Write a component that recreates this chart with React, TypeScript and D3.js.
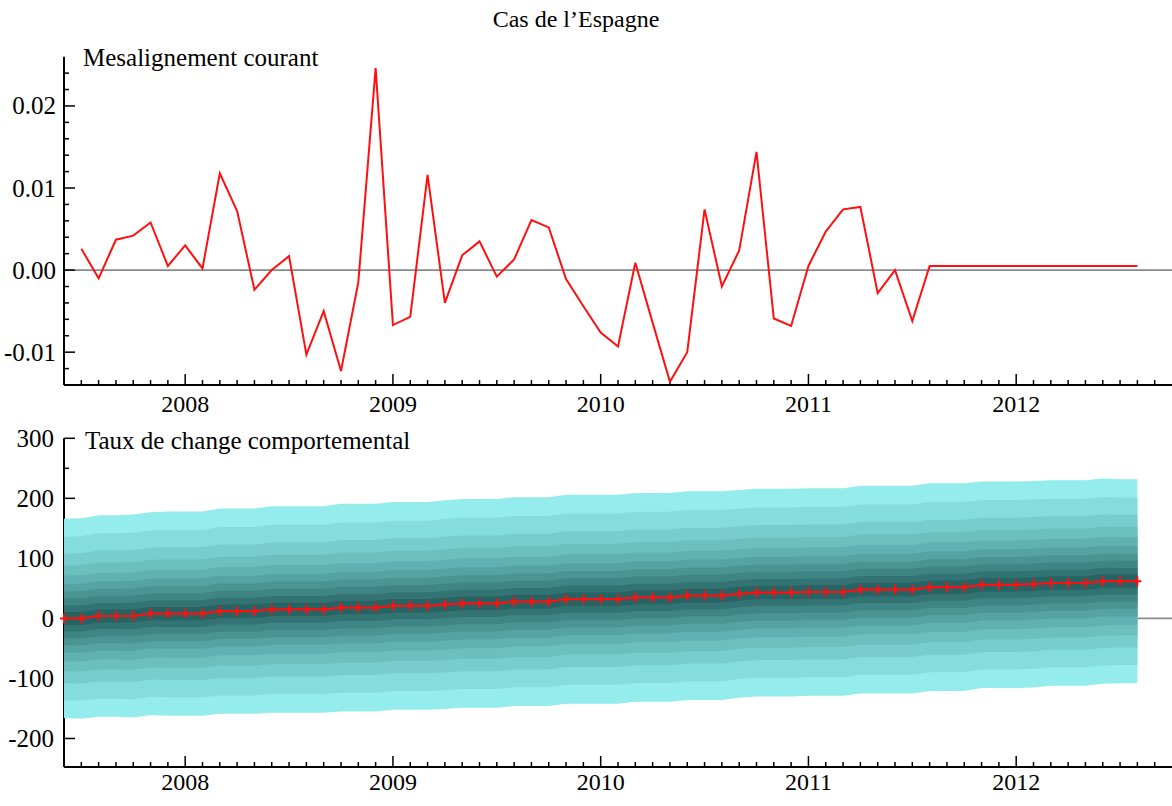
import React from "react";
import * as d3 from "d3";

// Monthly index 0 = June 2007
const yearLabels = ["2008", "2009", "2010", "2011", "2012"];
const yearMonthIndex = [7, 19, 31, 43, 55];

// Current misalignment, July 2007 .. August 2012 (index 1..62)
const misalignment = [
  0.0026, -0.001, 0.0037, 0.0042, 0.0058, 0.0005, 0.003, 0.0002, 0.0118, 0.0072,
  -0.0024, 0.0, 0.0017, -0.0103, -0.005, -0.0123, -0.0015, 0.0246, -0.0067, -0.0057,
  0.0116, -0.004, 0.0018, 0.0035, -0.0008, 0.0013, 0.0061, 0.0052, -0.0011, -0.0044,
  -0.0076, -0.0093, 0.0009, -0.0064, -0.0136, -0.01, 0.0074, -0.002, 0.0024, 0.0144,
  -0.0059, -0.0068, 0.0005, 0.0047, 0.0074, 0.0077, -0.0028, 0.0, -0.0062, 0.0005,
  0.0005, 0.0005, 0.0005, 0.0005, 0.0005, 0.0005, 0.0005, 0.0005, 0.0005, 0.0005,
  0.0005, 0.0005,
];

// Behavioural exchange rate, June 2007 .. August 2012 (index 0..62)
const behavioural = [
  0, 0, 4, 4, 4, 8, 8, 8, 8, 12, 12, 12, 15, 15, 15, 15, 18, 18, 18, 21, 21, 21, 23,
  25, 25, 25, 28, 28, 28, 32, 32, 32, 32, 35, 35, 35, 38, 38, 38, 41, 43, 43, 43, 44,
  44, 44, 48, 48, 48, 48, 52, 52, 52, 56, 56, 56, 57, 59, 59, 59, 62, 62, 62,
];

// Half-width of the outermost fan band around the behavioural rate
const fanHalfWidth = [
  166, 167, 168, 168, 169, 169, 170, 170, 170, 171, 171, 171, 172, 172, 172, 172, 173,
  173, 173, 173, 173, 173, 174, 174, 174, 174, 174, 174, 174, 174, 174, 174, 174, 174,
  174, 174, 174, 174, 174, 173, 173, 173, 173, 173, 173, 173, 173, 173, 173, 173, 173,
  173, 173, 172, 172, 172, 172, 171, 171, 171, 171, 170, 170,
];

// Band edges as fractions of the outer half-width, outer to inner
const bandFractions = [1, 0.82, 0.65, 0.53, 0.43, 0.345, 0.27, 0.2, 0.13, 0.065];
const bandColors = [
  "#94ecec", "#84dcdc", "#77cdcd", "#6bbfbf", "#60b1b1",
  "#55a3a3", "#4a9494", "#3f8585", "#337373", "#276363",
];

const topTicksMajor = [-0.01, 0, 0.01, 0.02];
const topTickLabels = ["-0.01", "0.00", "0.01", "0.02"];
const bottomTicksMajor = [-200, -100, 0, 100, 200, 300];
const bottomTickLabels = ["-200", "-100", "0", "100", "200", "300"];

const FONT = "'Liberation Serif', 'Times New Roman', serif";

export default function App() {
  const W = 1172;
  const H = 806;
  const x = d3.scaleLinear().domain([0, 64]).range([64, 1172]);

  const yTop = d3.scaleLinear().domain([-0.014, 0.026]).range([385, 56.7]);
  const yBot = d3.scaleLinear().domain([-247.5, 300]).range([767, 438.3]);

  const topLine = d3
    .line<number>()
    .x((_, i) => x(i + 1))
    .y((d) => yTop(d))(misalignment) as string;

  const botLine = d3
    .line<number>()
    .x((_, i) => x(i))
    .y((d) => yBot(d))(behavioural) as string;

  const bands = bandFractions.map((f) =>
    d3
      .area<number>()
      .x((_, i) => x(i))
      .y0((d, i) => yBot(d - f * fanHalfWidth[i]))
      .y1((d, i) => yBot(d + f * fanHalfWidth[i]))(behavioural) as string
  );

  const monthTicks = d3.range(1, 64);
  const topMinor = d3.range(-12, 25, 2).map((v) => v / 1000);
  const botMinor = [-150, -50, 50, 150, 250];

  const xAxis = (y0: number, labelY: number, key: string) => (
    <g key={key}>
      <line x1={x(0)} x2={W} y1={y0} y2={y0} stroke="#000" strokeWidth={2} />
      {monthTicks.map((m) => {
        const major = yearMonthIndex.includes(m);
        return (
          <line
            key={m}
            x1={x(m)}
            x2={x(m)}
            y1={y0}
            y2={y0 - (major ? 11 : 5)}
            stroke="#000"
            strokeWidth={1.5}
          />
        );
      })}
      {yearLabels.map((lab, i) => (
        <text
          key={lab}
          x={x(yearMonthIndex[i])}
          y={labelY}
          textAnchor="middle"
          fontSize={24}
          fontFamily={FONT}
        >
          {lab}
        </text>
      ))}
    </g>
  );

  return (
    <svg
      width={W}
      height={H}
      style={{ position: "absolute", left: 0, top: 0, background: "#fff" }}
    >
      <rect width={W} height={H} fill="#fff" />
      <text x={576} y={27} textAnchor="middle" fontSize={24} fontFamily={FONT}>
        Cas de l’Espagne
      </text>

      {/* Upper panel: current misalignment */}
      <line x1={x(0)} x2={W} y1={yTop(0)} y2={yTop(0)} stroke="#8a8a8a" strokeWidth={1.6} />
      <line x1={x(0)} x2={x(0)} y1={yTop(0.026)} y2={385} stroke="#000" strokeWidth={2} />
      {topMinor.map((v) => {
        const major = topTicksMajor.some((t) => Math.abs(t - v) < 1e-9);
        return (
          <line
            key={v}
            x1={x(0)}
            x2={x(0) + (major ? 11 : 5)}
            y1={yTop(v)}
            y2={yTop(v)}
            stroke="#000"
            strokeWidth={1.5}
          />
        );
      })}
      {topTicksMajor.map((v, i) => (
        <text
          key={v}
          x={56}
          y={yTop(v)}
          dy="0.34em"
          textAnchor="end"
          fontSize={25}
          fontFamily={FONT}
        >
          {topTickLabels[i]}
        </text>
      ))}
      {xAxis(385, 412, "xa-top")}
      <path d={topLine} fill="none" stroke="#ff1010" strokeWidth={2} />
      <text x={83} y={66} fontSize={25} fontFamily={FONT}>
        Mesalignement courant
      </text>

      {/* Lower panel: behavioural exchange rate with fan */}
      <line x1={x(0)} x2={W} y1={yBot(0)} y2={yBot(0)} stroke="#8a8a8a" strokeWidth={1.6} />
      <line x1={x(0)} x2={x(0)} y1={yBot(300)} y2={767} stroke="#000" strokeWidth={2} />
      {bottomTicksMajor.map((v) => (
        <line
          key={v}
          x1={x(0)}
          x2={x(0) + 11}
          y1={yBot(v)}
          y2={yBot(v)}
          stroke="#000"
          strokeWidth={1.5}
        />
      ))}
      {botMinor.map((v) => (
        <line
          key={v}
          x1={x(0)}
          x2={x(0) + 5}
          y1={yBot(v)}
          y2={yBot(v)}
          stroke="#000"
          strokeWidth={1.5}
        />
      ))}
      {bottomTicksMajor.map((v, i) => (
        <text
          key={v}
          x={54}
          y={yBot(v)}
          dy="0.34em"
          textAnchor="end"
          fontSize={25}
          fontFamily={FONT}
        >
          {bottomTickLabels[i]}
        </text>
      ))}
      {xAxis(767, 790, "xa-bot")}
      {bands.map((d, i) => (
        <path key={i} d={d} fill={bandColors[i]} stroke="none" />
      ))}
      <path d={botLine} fill="none" stroke="#ff1010" strokeWidth={2.2} />
      {behavioural.map((v, i) => (
        <path
          key={i}
          d={`M${x(i) - 4},${yBot(v)}H${x(i) + 4}M${x(i)},${yBot(v) - 5}V${yBot(v) + 5}`}
          stroke="#ff1010"
          strokeWidth={2}
          fill="none"
        />
      ))}
      <text x={85} y={449} fontSize={25} fontFamily={FONT}>
        Taux de change comportemental
      </text>
    </svg>
  );
}
